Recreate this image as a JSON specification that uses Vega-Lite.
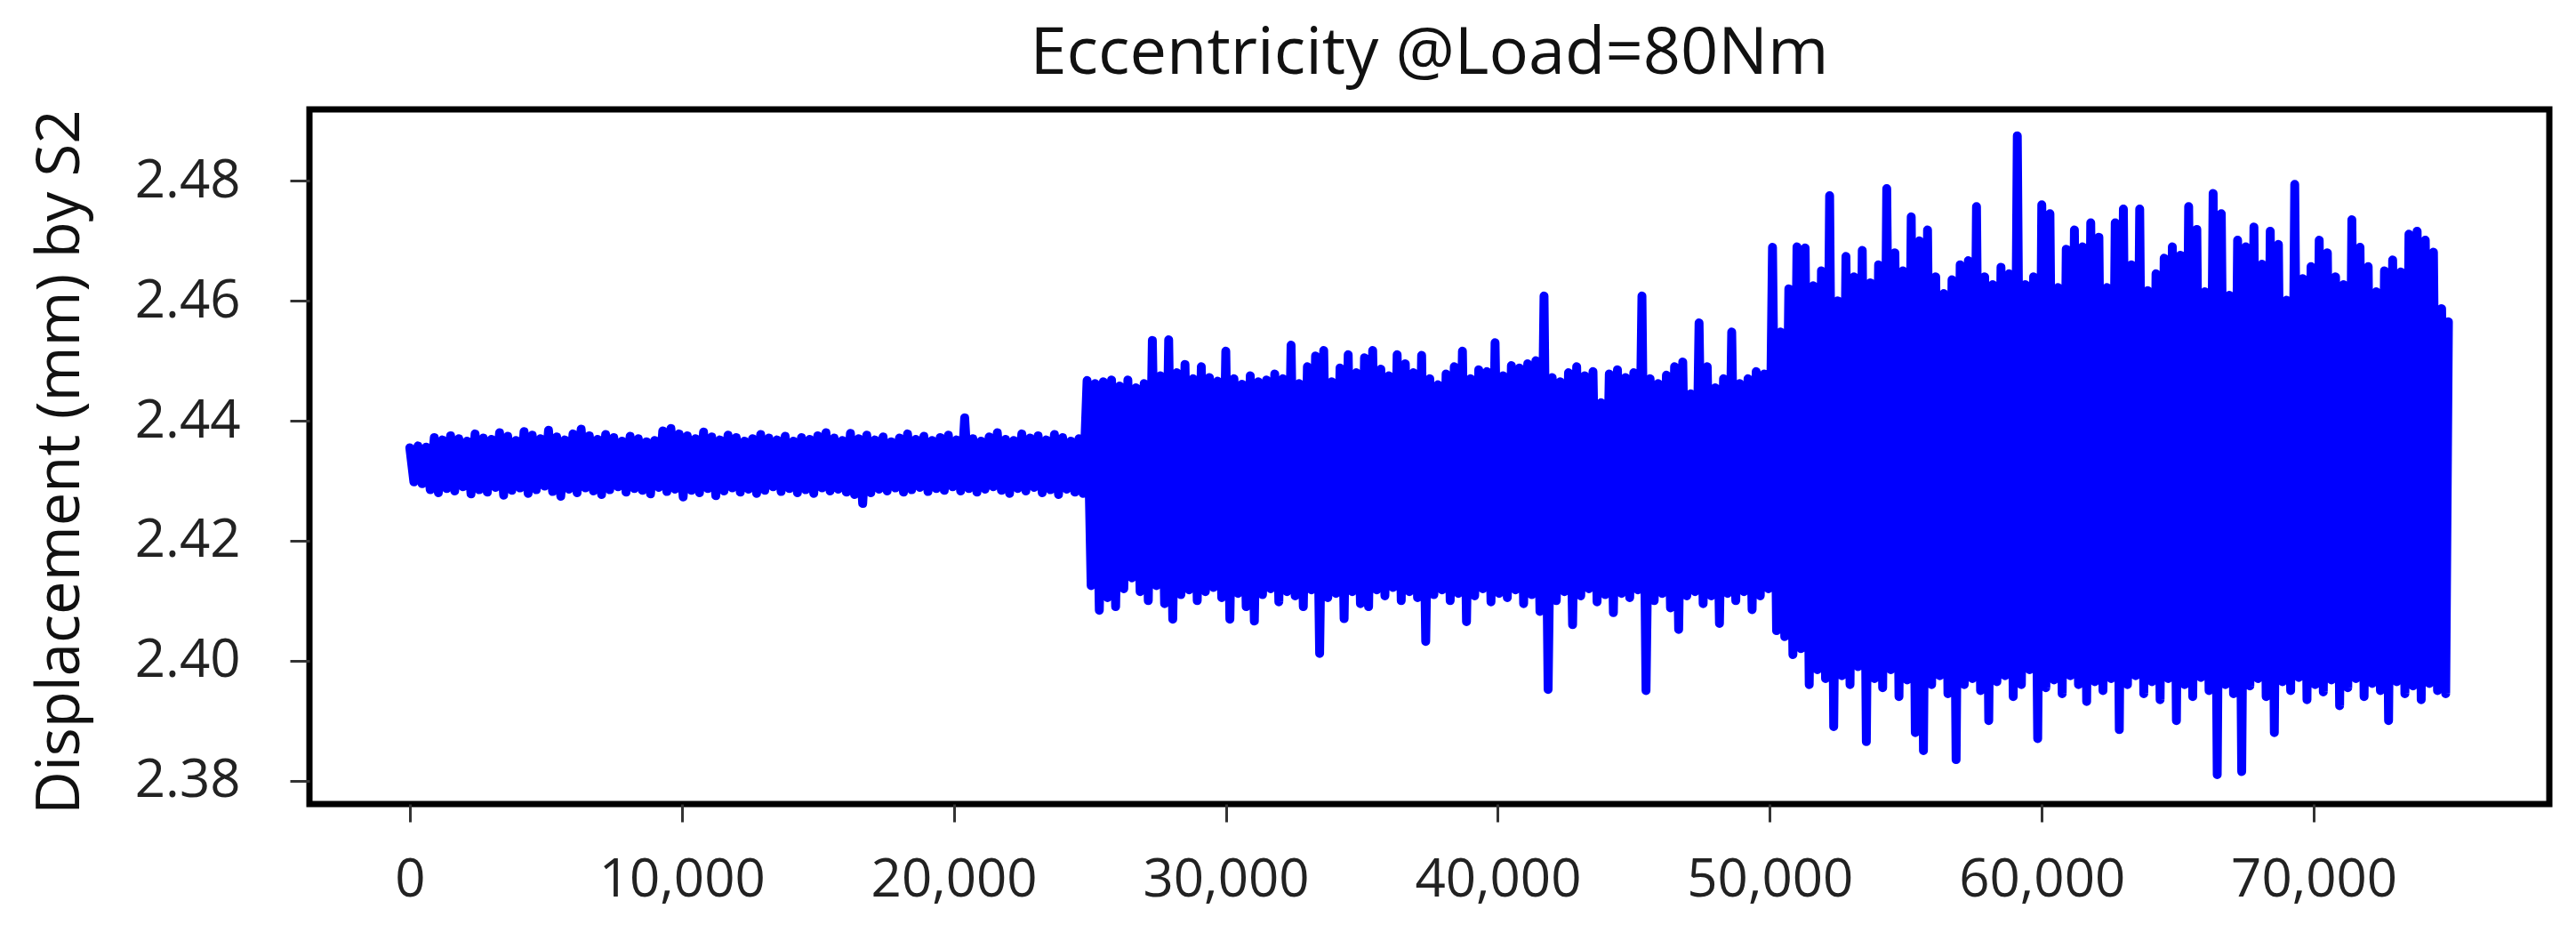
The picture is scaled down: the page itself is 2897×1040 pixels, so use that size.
{
"$schema": "https://vega.github.io/schema/vega-lite/v6.json",
"width": 2519, "height": 781,
"autosize": {"type": "none"},
"padding": {"left": 348, "top": 123, "right": 30, "bottom": 136},
"background": "white",
"title": {"text": "Eccentricity @Load=80Nm", "font": "Open Sans", "fontSize": 74, "fontWeight": "normal", "color": "#111111", "offset": 24, "anchor": "middle", "frame": "group"},
"config": {"view": {"stroke": "black", "strokeWidth": 7}, "axis": {"grid": false, "domain": false}},
"data": {"values": [
{"x":0,"y":2.4355},{"x":150,"y":2.4298},{"x":300,"y":2.4358},{"x":450,"y":2.4295},{"x":600,"y":2.4356},{"x":750,"y":2.4285},{"x":900,"y":2.4372},{"x":1050,"y":2.428},{"x":1200,"y":2.4368},{"x":1350,"y":2.4287},
{"x":1500,"y":2.4375},{"x":1650,"y":2.4283},{"x":1800,"y":2.437},{"x":1950,"y":2.429},{"x":2100,"y":2.4366},{"x":2250,"y":2.4278},{"x":2400,"y":2.4378},{"x":2550,"y":2.4285},{"x":2700,"y":2.4371},{"x":2850,"y":2.4281},
{"x":3000,"y":2.4369},{"x":3150,"y":2.4289},{"x":3300,"y":2.438},{"x":3450,"y":2.4276},{"x":3600,"y":2.4374},{"x":3750,"y":2.4284},{"x":3900,"y":2.4367},{"x":4050,"y":2.4288},{"x":4200,"y":2.4382},{"x":4350,"y":2.4279},
{"x":4500,"y":2.4376},{"x":4650,"y":2.4285},{"x":4800,"y":2.437},{"x":4950,"y":2.4291},{"x":5100,"y":2.4384},{"x":5250,"y":2.4282},{"x":5400,"y":2.4373},{"x":5550,"y":2.4274},{"x":5700,"y":2.4368},{"x":5850,"y":2.4286},
{"x":6000,"y":2.4378},{"x":6150,"y":2.428},{"x":6300,"y":2.4386},{"x":6450,"y":2.4288},{"x":6600,"y":2.4375},{"x":6750,"y":2.4283},{"x":6900,"y":2.4369},{"x":7050,"y":2.4277},{"x":7200,"y":2.4377},{"x":7350,"y":2.4285},
{"x":7500,"y":2.4372},{"x":7650,"y":2.429},{"x":7800,"y":2.4366},{"x":7950,"y":2.4281},{"x":8100,"y":2.4374},{"x":8250,"y":2.4287},{"x":8400,"y":2.437},{"x":8550,"y":2.4284},{"x":8700,"y":2.4365},{"x":8850,"y":2.4278},
{"x":9000,"y":2.4367},{"x":9150,"y":2.4289},{"x":9300,"y":2.4383},{"x":9450,"y":2.4282},{"x":9600,"y":2.4387},{"x":9750,"y":2.4286},{"x":9900,"y":2.4378},{"x":10050,"y":2.4273},{"x":10200,"y":2.4375},{"x":10350,"y":2.4284},
{"x":10500,"y":2.437},{"x":10650,"y":2.428},{"x":10800,"y":2.4381},{"x":10950,"y":2.4287},{"x":11100,"y":2.4373},{"x":11250,"y":2.4275},{"x":11400,"y":2.4368},{"x":11550,"y":2.4283},{"x":11700,"y":2.4376},{"x":11850,"y":2.4288},
{"x":12000,"y":2.4372},{"x":12150,"y":2.4281},{"x":12300,"y":2.4366},{"x":12450,"y":2.4286},{"x":12600,"y":2.437},{"x":12750,"y":2.4279},{"x":12900,"y":2.4377},{"x":13050,"y":2.4284},{"x":13200,"y":2.4371},{"x":13350,"y":2.429},
{"x":13500,"y":2.4368},{"x":13650,"y":2.4282},{"x":13800,"y":2.4374},{"x":13950,"y":2.4287},{"x":14100,"y":2.4366},{"x":14250,"y":2.428},{"x":14400,"y":2.4372},{"x":14550,"y":2.4285},{"x":14700,"y":2.4369},{"x":14850,"y":2.4279},
{"x":15000,"y":2.4375},{"x":15150,"y":2.4288},{"x":15300,"y":2.438},{"x":15450,"y":2.4283},{"x":15600,"y":2.4371},{"x":15750,"y":2.4286},{"x":15900,"y":2.4367},{"x":16050,"y":2.4281},{"x":16200,"y":2.4379},{"x":16350,"y":2.4277},
{"x":16500,"y":2.437},{"x":16650,"y":2.4262},{"x":16800,"y":2.4376},{"x":16950,"y":2.428},{"x":17100,"y":2.4368},{"x":17250,"y":2.4286},{"x":17400,"y":2.4373},{"x":17550,"y":2.4283},{"x":17700,"y":2.4365},{"x":17850,"y":2.4288},
{"x":18000,"y":2.4371},{"x":18150,"y":2.4281},{"x":18300,"y":2.4378},{"x":18450,"y":2.4285},{"x":18600,"y":2.4369},{"x":18750,"y":2.4289},{"x":18900,"y":2.4374},{"x":19050,"y":2.4282},{"x":19200,"y":2.4367},{"x":19350,"y":2.4287},
{"x":19500,"y":2.4372},{"x":19650,"y":2.4284},{"x":19800,"y":2.4376},{"x":19950,"y":2.429},{"x":20100,"y":2.4368},{"x":20250,"y":2.4283},{"x":20400,"y":2.4405},{"x":20550,"y":2.4287},{"x":20700,"y":2.437},{"x":20850,"y":2.4281},
{"x":21000,"y":2.4366},{"x":21150,"y":2.4286},{"x":21300,"y":2.4373},{"x":21450,"y":2.429},{"x":21600,"y":2.438},{"x":21750,"y":2.4284},{"x":21900,"y":2.4369},{"x":22050,"y":2.4279},{"x":22200,"y":2.4367},{"x":22350,"y":2.4287},
{"x":22500,"y":2.4378},{"x":22650,"y":2.4283},{"x":22800,"y":2.4371},{"x":22950,"y":2.4289},{"x":23100,"y":2.4375},{"x":23250,"y":2.428},{"x":23400,"y":2.4368},{"x":23550,"y":2.4285},{"x":23700,"y":2.4377},{"x":23850,"y":2.4277},
{"x":24000,"y":2.4372},{"x":24150,"y":2.4286},{"x":24300,"y":2.4366},{"x":24450,"y":2.4281},{"x":24600,"y":2.437},{"x":24750,"y":2.4279},
{"x":24900,"y":2.4467},{"x":25050,"y":2.4125},{"x":25200,"y":2.4462},{"x":25350,"y":2.4084},{"x":25500,"y":2.4465},{"x":25650,"y":2.4105},{"x":25800,"y":2.4468},{"x":25950,"y":2.409},{"x":26100,"y":2.4458},{"x":26250,"y":2.412},
{"x":26400,"y":2.4468},{"x":26550,"y":2.4138},{"x":26700,"y":2.4455},{"x":26850,"y":2.4115},{"x":27000,"y":2.4462},{"x":27150,"y":2.41},{"x":27300,"y":2.4534},{"x":27450,"y":2.4125},{"x":27600,"y":2.4475},{"x":27750,"y":2.4095},
{"x":27900,"y":2.4535},{"x":28050,"y":2.4069},{"x":28200,"y":2.448},{"x":28350,"y":2.411},{"x":28500,"y":2.4494},{"x":28650,"y":2.4118},{"x":28800,"y":2.447},{"x":28950,"y":2.41},{"x":29100,"y":2.449},{"x":29250,"y":2.4115},
{"x":29400,"y":2.4472},{"x":29550,"y":2.4122},{"x":29700,"y":2.4466},{"x":29850,"y":2.4105},{"x":30000,"y":2.4516},{"x":30150,"y":2.4069},{"x":30300,"y":2.447},{"x":30450,"y":2.4112},{"x":30600,"y":2.4461},{"x":30750,"y":2.409},
{"x":30900,"y":2.4475},{"x":31050,"y":2.4066},{"x":31200,"y":2.4465},{"x":31350,"y":2.411},{"x":31500,"y":2.4468},{"x":31650,"y":2.412},{"x":31800,"y":2.4478},{"x":31950,"y":2.4098},{"x":32100,"y":2.447},{"x":32250,"y":2.4115},
{"x":32400,"y":2.4526},{"x":32550,"y":2.4108},{"x":32700,"y":2.4462},{"x":32850,"y":2.409},{"x":33000,"y":2.449},{"x":33150,"y":2.4118},{"x":33300,"y":2.4508},{"x":33450,"y":2.4012},{"x":33600,"y":2.4517},{"x":33750,"y":2.4105},
{"x":33900,"y":2.4465},{"x":34050,"y":2.4112},{"x":34200,"y":2.4488},{"x":34350,"y":2.407},{"x":34500,"y":2.451},{"x":34650,"y":2.4115},{"x":34800,"y":2.448},{"x":34950,"y":2.4095},{"x":35100,"y":2.4505},{"x":35250,"y":2.409},
{"x":35400,"y":2.4517},{"x":35550,"y":2.4118},{"x":35700,"y":2.4486},{"x":35850,"y":2.4108},{"x":36000,"y":2.4475},{"x":36150,"y":2.4122},{"x":36300,"y":2.451},{"x":36450,"y":2.41},{"x":36600,"y":2.4495},{"x":36750,"y":2.4115},
{"x":36900,"y":2.448},{"x":37050,"y":2.4105},{"x":37200,"y":2.4509},{"x":37350,"y":2.4032},{"x":37500,"y":2.447},{"x":37650,"y":2.411},{"x":37800,"y":2.446},{"x":37950,"y":2.4118},{"x":38100,"y":2.4478},{"x":38250,"y":2.41},
{"x":38400,"y":2.449},{"x":38550,"y":2.4112},{"x":38700,"y":2.4516},{"x":38850,"y":2.4065},{"x":39000,"y":2.447},{"x":39150,"y":2.4108},{"x":39300,"y":2.4485},{"x":39450,"y":2.412},{"x":39600,"y":2.4482},{"x":39750,"y":2.4098},
{"x":39900,"y":2.453},{"x":40050,"y":2.4112},{"x":40200,"y":2.4475},{"x":40350,"y":2.4105},{"x":40500,"y":2.4492},{"x":40650,"y":2.4118},{"x":40800,"y":2.4488},{"x":40950,"y":2.4095},{"x":41100,"y":2.4495},{"x":41250,"y":2.411},
{"x":41400,"y":2.45},{"x":41550,"y":2.4082},{"x":41700,"y":2.4608},{"x":41850,"y":2.3952},{"x":42000,"y":2.4472},{"x":42150,"y":2.41},{"x":42300,"y":2.4465},{"x":42450,"y":2.4115},{"x":42600,"y":2.448},{"x":42750,"y":2.406},
{"x":42900,"y":2.449},{"x":43050,"y":2.4108},{"x":43200,"y":2.4475},{"x":43350,"y":2.412},{"x":43500,"y":2.4482},{"x":43650,"y":2.4098},{"x":43800,"y":2.443},{"x":43950,"y":2.411},{"x":44100,"y":2.4478},{"x":44250,"y":2.408},
{"x":44400,"y":2.4485},{"x":44550,"y":2.4112},{"x":44700,"y":2.4472},{"x":44850,"y":2.4105},{"x":45000,"y":2.448},{"x":45150,"y":2.4118},{"x":45300,"y":2.4608},{"x":45450,"y":2.395},{"x":45600,"y":2.447},{"x":45750,"y":2.41},
{"x":45900,"y":2.4462},{"x":46050,"y":2.4112},{"x":46200,"y":2.4476},{"x":46350,"y":2.4088},{"x":46500,"y":2.449},{"x":46650,"y":2.4052},{"x":46800,"y":2.4498},{"x":46950,"y":2.4108},{"x":47100,"y":2.4445},{"x":47250,"y":2.4115},
{"x":47400,"y":2.4563},{"x":47550,"y":2.4095},{"x":47700,"y":2.449},{"x":47850,"y":2.4108},{"x":48000,"y":2.4455},{"x":48150,"y":2.4062},{"x":48300,"y":2.447},{"x":48450,"y":2.4112},{"x":48600,"y":2.4548},{"x":48750,"y":2.41},
{"x":48900,"y":2.4462},{"x":49050,"y":2.4115},{"x":49200,"y":2.447},{"x":49350,"y":2.4085},{"x":49500,"y":2.4482},{"x":49650,"y":2.4108},{"x":49800,"y":2.4478},{"x":49950,"y":2.412},
{"x":50100,"y":2.4689},{"x":50250,"y":2.405},{"x":50400,"y":2.4548},{"x":50550,"y":2.404},{"x":50700,"y":2.462},{"x":50850,"y":2.401},{"x":51000,"y":2.469},{"x":51150,"y":2.402},{"x":51300,"y":2.4688},{"x":51450,"y":2.396},
{"x":51600,"y":2.4625},{"x":51750,"y":2.3985},{"x":51900,"y":2.465},{"x":52050,"y":2.397},{"x":52200,"y":2.4775},{"x":52350,"y":2.389},{"x":52500,"y":2.46},{"x":52650,"y":2.3975},{"x":52800,"y":2.4674},{"x":52950,"y":2.396},
{"x":53100,"y":2.464},{"x":53250,"y":2.399},{"x":53400,"y":2.4684},{"x":53550,"y":2.3865},{"x":53700,"y":2.463},{"x":53850,"y":2.397},{"x":54000,"y":2.466},{"x":54150,"y":2.3955},{"x":54300,"y":2.4787},{"x":54450,"y":2.3985},
{"x":54600,"y":2.468},{"x":54750,"y":2.394},{"x":54900,"y":2.465},{"x":55050,"y":2.3968},{"x":55200,"y":2.474},{"x":55350,"y":2.388},{"x":55500,"y":2.47},{"x":55650,"y":2.385},{"x":55800,"y":2.4718},{"x":55950,"y":2.396},
{"x":56100,"y":2.464},{"x":56250,"y":2.3975},{"x":56400,"y":2.4612},{"x":56550,"y":2.3945},{"x":56700,"y":2.4635},{"x":56850,"y":2.3835},{"x":57000,"y":2.466},{"x":57150,"y":2.396},{"x":57300,"y":2.4667},{"x":57450,"y":2.397},
{"x":57600,"y":2.4757},{"x":57750,"y":2.395},{"x":57900,"y":2.464},{"x":58050,"y":2.39},{"x":58200,"y":2.4627},{"x":58350,"y":2.3965},{"x":58500,"y":2.4656},{"x":58650,"y":2.3975},{"x":58800,"y":2.4645},{"x":58950,"y":2.394},
{"x":59100,"y":2.4875},{"x":59250,"y":2.396},{"x":59400,"y":2.4627},{"x":59550,"y":2.3985},{"x":59700,"y":2.464},{"x":59850,"y":2.387},{"x":60000,"y":2.476},{"x":60150,"y":2.3955},{"x":60300,"y":2.4745},{"x":60450,"y":2.3968},
{"x":60600,"y":2.4622},{"x":60750,"y":2.3945},{"x":60900,"y":2.4686},{"x":61050,"y":2.3975},{"x":61200,"y":2.4718},{"x":61350,"y":2.396},{"x":61500,"y":2.469},{"x":61650,"y":2.3932},{"x":61800,"y":2.473},{"x":61950,"y":2.3965},
{"x":62100,"y":2.4706},{"x":62250,"y":2.395},{"x":62400,"y":2.4622},{"x":62550,"y":2.397},{"x":62700,"y":2.473},{"x":62850,"y":2.3885},{"x":63000,"y":2.4753},{"x":63150,"y":2.396},{"x":63300,"y":2.466},{"x":63450,"y":2.3975},
{"x":63600,"y":2.4753},{"x":63750,"y":2.3945},{"x":63900,"y":2.4617},{"x":64050,"y":2.3965},{"x":64200,"y":2.4645},{"x":64350,"y":2.3935},{"x":64500,"y":2.4671},{"x":64650,"y":2.397},{"x":64800,"y":2.469},{"x":64950,"y":2.39},
{"x":65100,"y":2.4676},{"x":65250,"y":2.396},{"x":65400,"y":2.4757},{"x":65550,"y":2.394},{"x":65700,"y":2.4719},{"x":65850,"y":2.3972},{"x":66000,"y":2.4615},{"x":66150,"y":2.395},{"x":66300,"y":2.4779},{"x":66450,"y":2.381},
{"x":66600,"y":2.4745},{"x":66750,"y":2.396},{"x":66900,"y":2.4609},{"x":67050,"y":2.3945},{"x":67200,"y":2.4701},{"x":67350,"y":2.3815},{"x":67500,"y":2.469},{"x":67650,"y":2.3958},{"x":67800,"y":2.4723},{"x":67950,"y":2.397},
{"x":68100,"y":2.4661},{"x":68250,"y":2.394},{"x":68400,"y":2.4716},{"x":68550,"y":2.388},{"x":68700,"y":2.4694},{"x":68850,"y":2.3965},{"x":69000,"y":2.4601},{"x":69150,"y":2.395},{"x":69300,"y":2.4794},{"x":69450,"y":2.3972},
{"x":69600,"y":2.4637},{"x":69750,"y":2.3935},{"x":69900,"y":2.4657},{"x":70050,"y":2.396},{"x":70200,"y":2.4701},{"x":70350,"y":2.3948},{"x":70500,"y":2.468},{"x":70650,"y":2.3968},{"x":70800,"y":2.464},{"x":70950,"y":2.3925},
{"x":71100,"y":2.4627},{"x":71250,"y":2.3955},{"x":71400,"y":2.4735},{"x":71550,"y":2.397},{"x":71700,"y":2.4689},{"x":71850,"y":2.394},{"x":72000,"y":2.4657},{"x":72150,"y":2.3962},{"x":72300,"y":2.4615},{"x":72450,"y":2.395},
{"x":72600,"y":2.465},{"x":72750,"y":2.39},{"x":72900,"y":2.4668},{"x":73050,"y":2.3965},{"x":73200,"y":2.4648},{"x":73350,"y":2.3945},{"x":73500,"y":2.4711},{"x":73650,"y":2.3958},{"x":73800,"y":2.4716},{"x":73950,"y":2.3935},
{"x":74100,"y":2.4701},{"x":74250,"y":2.3962},{"x":74400,"y":2.4681},{"x":74550,"y":2.395},{"x":74700,"y":2.4587},{"x":74850,"y":2.3945},{"x":74950,"y":2.4565}
]},
"mark": {"type": "line", "color": "#0000FF", "strokeWidth": 10, "strokeJoin": "round", "strokeCap": "round", "clip": true},
"encoding": {
"x": {"field": "x", "type": "quantitative", "scale": {"domain": [-3690, 78660], "nice": false, "zero": false},
"axis": {"values": [0, 10000, 20000, 30000, 40000, 50000, 60000, 70000], "format": ",d", "title": null, "labelFont": "Open Sans", "labelFontSize": 60, "labelColor": "#222222", "labelLimit": 0, "tickSize": 20, "tickWidth": 3, "tickColor": "#333333", "labelPadding": 36, "labelFlush": false, "labelOverlap": false}},
"y": {"field": "y", "type": "quantitative", "scale": {"domain": [2.3761, 2.4919], "nice": false, "zero": false},
"axis": {"values": [2.38, 2.4, 2.42, 2.44, 2.46, 2.48], "format": ".2f", "title": "Displacement (mm) by S2", "titleFont": "Open Sans", "titleFontSize": 67, "titleFontWeight": "normal", "titleColor": "#111111", "titleX": -260, "titleY": 396, "titleAngle": -90, "titleAlign": "center", "titleBaseline": "alphabetic", "labelFont": "Open Sans", "labelFontSize": 60, "labelColor": "#222222", "labelLimit": 0, "tickSize": 22, "tickWidth": 3, "tickColor": "#333333", "labelPadding": 56, "labelFlush": false, "labelOverlap": false}}
}
}
